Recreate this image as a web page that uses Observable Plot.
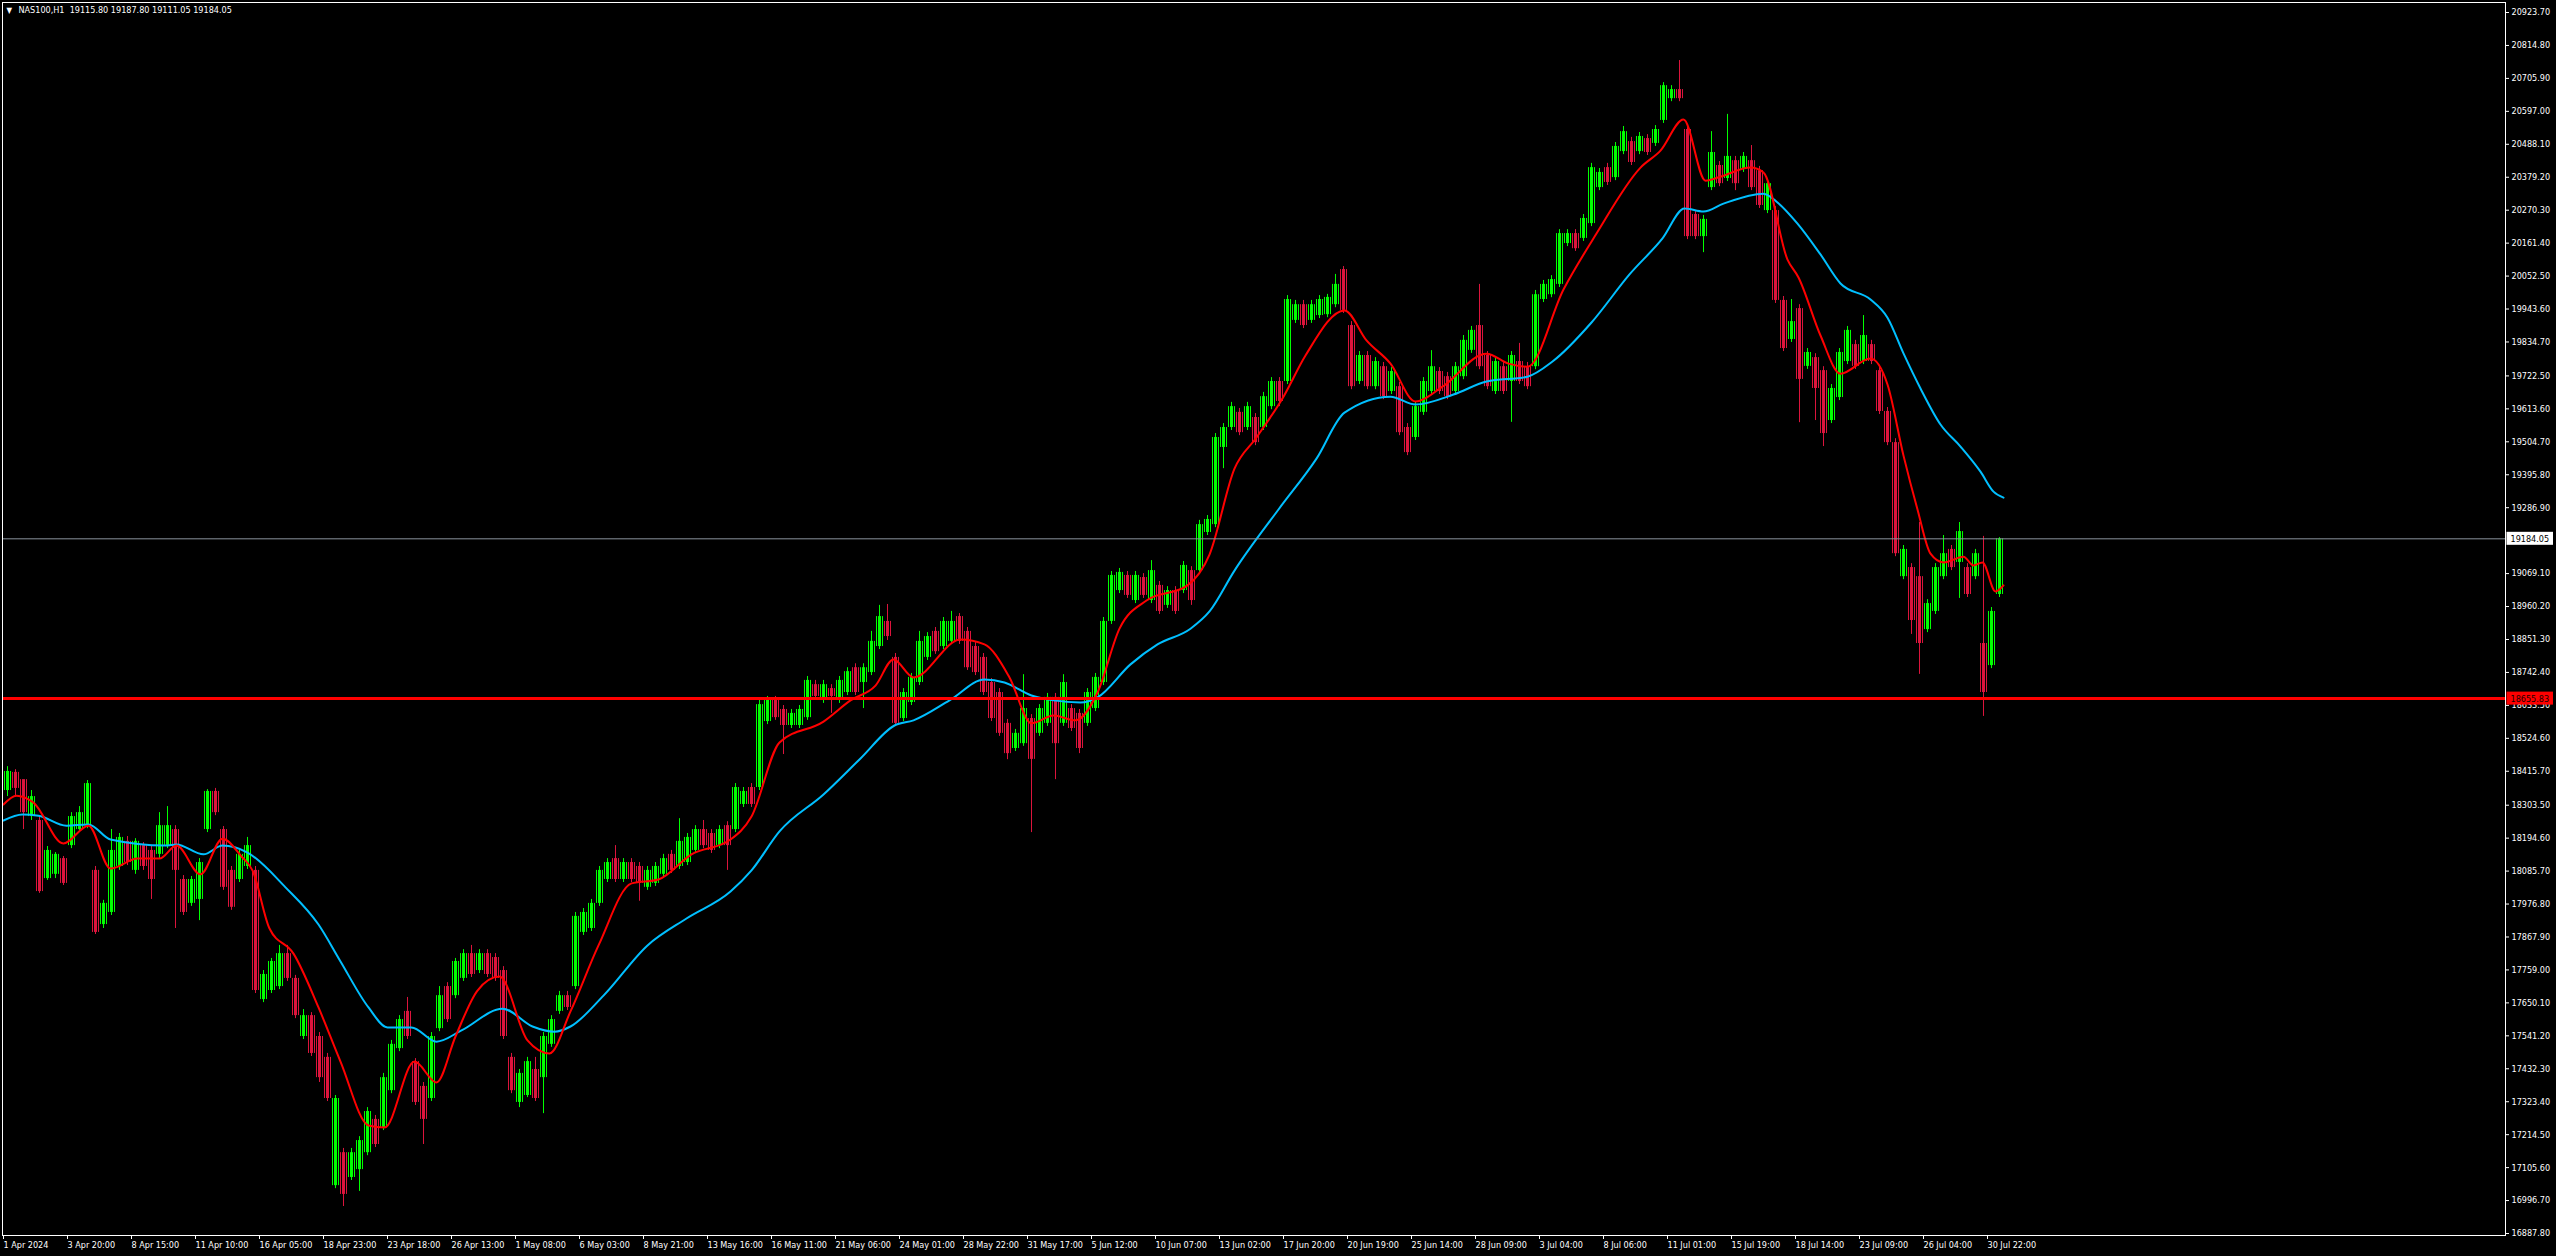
<!DOCTYPE html>
<html>
<head>
<meta charset="utf-8">
<script src="https://cdn.jsdelivr.net/npm/d3@7"></script>
<script src="https://cdn.jsdelivr.net/npm/@observablehq/plot@0.6"></script>
<style>
html, body { margin: 0; padding: 0; background: #000; overflow: hidden; }
#chart { position: absolute; left: 0; top: 0; }
</style>
</head>
<body>
<div id="chart"></div>
<script>
// ---------- header ----------
const symbolName = "NAS100,H1";
const lastOHLC = [19115.80, 19187.80, 19111.05, 19184.05];

// ---------- price columns (each column = 8 hourly bars) ----------
const barsPerColumn = 8;
const colOpen = [
18352,18412,18388,18266,18253,18061,18075,18127,18170,18223,
18236,18088,17909,17949,18101,18184,18088,18170,18154,18141,
18170,18223,18058,17979,17992,18223,18349,18223,18088,18058,
18101,18088,17661,17691,17704,17813,17731,17539,17608,17539,
17470,17046,17155,17073,17099,17155,17265,17238,17360,17499,
17622,17456,17374,17334,17565,17704,17674,17731,17813,17757,
17813,17800,17757,17470,17321,17344,17430,17403,17513,17622,
17674,17704,17883,17896,17979,18058,18127,18058,18114,18101,
18032,18045,18075,18141,18101,18114,18154,18223,18210,18170,
18236,18223,18306,18362,18362,18580,18650,18620,18567,18567,
18593,18702,18650,18689,18650,18676,18758,18709,18742,18828,
18911,18792,18590,18643,18709,18792,18878,18828,18845,18927,
18878,18828,18792,18709,18676,18574,18491,18507,18590,18541,
18574,18660,18574,18623,18607,18574,18623,18709,18911,19013,
19063,18980,19056,18980,19030,18964,19013,19013,19079,19079,
19205,19231,19486,19552,19602,19552,19585,19552,19621,19704,
19704,19906,19958,19906,19922,19925,19958,20074,19889,19704,
19790,19687,19753,19671,19687,19552,19519,19602,19671,19737,
19720,19671,19720,19807,19889,19790,19671,19753,19704,19770,
19753,19753,19975,19991,20025,20160,20193,20177,20226,20345,
20411,20378,20464,20497,20464,20507,20491,20567,20639,20669,
20537,20256,20183,20345,20418,20375,20434,20405,20434,20401,
20269,20269,19972,19843,19945,19754,19783,19740,19575,19651,
19770,19826,19770,19826,19740,19605,19502,19059,19089,19059,
18884,18944,19059,19149,19106,19089,19059,18838,18765,19000
];
const colHigh = [
18431,18421,18388,18352,18266,18167,18147,18134,18279,18299,
18385,18101,17989,18223,18210,18200,18193,18180,18167,18279,
18299,18236,18071,18068,18127,18355,18359,18233,18101,18154,
18197,18101,17757,17797,17840,17840,17741,17628,17618,17552,
17483,17344,17169,17169,17208,17304,17278,17417,17526,17608,
17668,17466,17387,17552,17704,17717,17797,17826,17840,17826,
17826,17813,17770,17483,17430,17470,17470,17552,17608,17688,
17688,17949,17962,17992,18101,18127,18170,18127,18127,18114,
18101,18114,18141,18154,18259,18210,18236,18253,18223,18236,
18249,18375,18362,18375,18650,18663,18663,18633,18620,18633,
18729,18716,18716,18702,18729,18758,18771,18771,18878,18964,
18967,18805,18689,18739,18878,18874,18891,18924,18944,18937,
18891,18841,18805,18722,18689,18587,18554,18735,18603,18636,
18673,18673,18735,18636,18620,18689,18739,18924,19076,19086,
19076,19076,19069,19112,19043,19026,19026,19109,19092,19245,
19261,19532,19565,19635,19615,19635,19598,19668,19717,19717,
19988,19972,19972,19972,19988,19992,20058,20084,19902,19803,
19803,19783,19767,19750,19701,19565,19635,19717,19806,19750,
19734,19767,19856,19886,20025,19803,19783,19767,19803,19830,
19767,20005,20038,20054,20206,20206,20206,20256,20425,20408,
20425,20494,20547,20511,20527,20520,20550,20692,20682,20765,
20550,20269,20253,20530,20431,20587,20448,20461,20484,20415,
20372,20282,19985,19975,19958,19813,19796,19753,19694,19813,
19886,19840,19922,19840,19753,19618,19515,19162,19102,19238,
18983,19102,19195,19162,19238,19102,19149,19192,18957,19188
];
const colLow = [
18332,18335,18223,18253,18012,18055,18061,18038,18160,18213,
18226,17876,17896,17939,18088,18104,18075,18088,17992,18127,
18160,17896,17939,17969,17922,18213,18269,18022,17956,18048,
18091,17681,17651,17681,17694,17721,17598,17529,17473,17387,
17324,17036,16977,17063,17027,17145,17172,17228,17350,17489,
17529,17311,17182,17324,17555,17585,17664,17721,17734,17747,
17734,17721,17529,17350,17304,17337,17324,17284,17503,17612,
17625,17694,17873,17886,17969,18048,18048,18048,18048,17986,
18022,18035,18065,18078,18091,18104,18144,18160,18144,18160,
18088,18213,18296,18296,18352,18570,18584,18471,18557,18557,
18584,18653,18640,18607,18640,18666,18666,18623,18732,18818,
18848,18564,18580,18633,18699,18782,18802,18818,18835,18835,
18749,18732,18666,18580,18531,18454,18481,18498,18213,18531,
18564,18388,18564,18547,18474,18564,18613,18699,18901,19003,
18987,18970,18987,18970,18934,18954,18934,19003,18964,19069,
19195,19221,19416,19542,19525,19542,19492,19542,19611,19621,
19694,19896,19879,19896,19912,19915,19948,19929,19677,19694,
19677,19677,19644,19661,19525,19459,19509,19592,19661,19661,
19644,19661,19710,19797,19743,19677,19661,19661,19569,19694,
19677,19743,19965,19981,20015,20150,20134,20167,20216,20335,
20352,20368,20454,20418,20454,20451,20481,20557,20629,20629,
20173,20173,20130,20335,20348,20365,20335,20395,20335,20276,
20259,19962,19803,19833,19568,19744,19575,19489,19565,19641,
19760,19744,19760,19760,19595,19492,19125,19049,18868,18736,
18874,18934,19049,19079,18987,18990,19049,18597,18755,18990
];
const colClose = [
18415,18359,18279,18332,18018,18154,18141,18045,18266,18279,
18375,17883,17979,18154,18197,18114,18184,18101,18058,18236,
18236,18088,17949,18058,18114,18349,18279,18032,17966,18141,
18170,17691,17744,17787,17813,17731,17608,17608,17483,17403,
17334,17334,17017,17155,17195,17291,17182,17403,17513,17595,
17539,17321,17265,17539,17674,17595,17787,17813,17744,17813,
17744,17731,17539,17360,17417,17456,17334,17539,17595,17674,
17635,17936,17949,17979,18088,18114,18058,18114,18058,18045,
18088,18101,18127,18088,18184,18197,18223,18170,18154,18223,
18170,18362,18349,18306,18636,18650,18593,18567,18607,18620,
18716,18663,18702,18663,18716,18745,18676,18758,18845,18927,
18861,18574,18676,18726,18845,18861,18811,18911,18911,18845,
18758,18742,18676,18590,18541,18474,18541,18623,18455,18623,
18660,18507,18709,18557,18491,18676,18726,18911,19063,19073,
18997,19063,18997,19079,18944,19013,18944,19096,18980,19231,
19248,19519,19552,19621,19535,19621,19502,19654,19704,19638,
19975,19958,19889,19958,19975,19982,20025,19939,19687,19790,
19687,19770,19654,19737,19535,19469,19621,19704,19753,19671,
19654,19753,19840,19873,19753,19687,19770,19671,19790,19704,
19687,19991,20025,20041,20193,20193,20143,20243,20411,20395,
20362,20481,20530,20428,20514,20461,20537,20682,20669,20639,
20183,20183,20240,20461,20358,20448,20358,20448,20345,20286,
20358,19972,19813,19902,19711,19800,19681,19532,19681,19800,
19873,19754,19856,19770,19605,19502,19135,19149,18914,18838,
18970,19089,19135,19089,19208,19000,19135,18676,18944,19184
];

// ---------- moving averages (bar index, value) ----------
const maFastBar = [0,13,30,60,85,107,134,156,173,197,219,238,249,266,290,315,337,365,381,411,433,452,474,496,524,546,567,595,628,655,688,727,748,776,820,847,872,890,910,957,981,1006,1028,1050,1072,1094,1116,1143,1184,1206,1231,1253,1280,1302,1341,1363,1387,1412,1439,1483,1505,1524,1560,1593,1637,1657,1680,1702,1717,1747,1760,1784,1795,1817,1837,1867,1884,1900,1914,1927,1940,1960,1970,1979,1992,2000];
const maFastValue = [18306,18335,18312,18177,18236,18094,18127,18127,18170,18075,18193,18134,18088,17896,17813,17635,17456,17245,17238,17456,17387,17539,17691,17737,17526,17483,17622,17840,18045,18058,18141,18190,18266,18511,18580,18650,18699,18785,18726,18851,18835,18726,18574,18600,18584,18676,18887,18980,19030,19132,19416,19519,19654,19790,19939,19840,19763,19638,19687,19796,19763,19753,20008,20193,20411,20467,20570,20368,20381,20411,20395,20107,20048,19856,19730,19780,19694,19459,19281,19135,19106,19125,19096,19106,19010,19030];
const maSlowBar = [0,19,35,63,85,107,162,173,200,219,244,282,315,337,365,384,408,433,458,499,529,551,567,600,644,683,727,748,776,820,857,891,910,946,981,1001,1028,1050,1077,1094,1127,1154,1187,1206,1231,1275,1313,1341,1387,1412,1450,1483,1524,1549,1588,1626,1659,1681,1700,1720,1760,1774,1794,1817,1837,1867,1884,1900,1917,1937,1957,1977,1990,2000];
const maSlowValue = [18253,18273,18269,18236,18240,18190,18170,18174,18141,18170,18147,18032,17909,17787,17635,17569,17569,17522,17559,17631,17572,17555,17572,17674,17840,17929,18018,18088,18217,18339,18458,18567,18584,18650,18719,18709,18666,18650,18643,18660,18769,18835,18887,18944,19079,19281,19449,19601,19654,19628,19661,19704,19720,19770,19899,20058,20177,20276,20266,20292,20325,20296,20226,20124,20028,19975,19915,19797,19681,19562,19489,19406,19340,19320];

// ---------- axes ----------
const yTickValues = [20923.70,20814.80,20705.90,20597.00,20488.10,20379.20,20270.30,20161.40,20052.50,19943.60,19834.70,19722.50,19613.60,19504.70,19395.80,19286.90,19069.10,18960.20,18851.30,18742.40,18633.50,18524.60,18415.70,18303.50,18194.60,18085.70,17976.80,17867.90,17759.00,17650.10,17541.20,17432.30,17323.40,17214.50,17105.60,16996.70,16887.80];
const xTickBars = [0,64,128,192,256,320,384,448,512,576,640,704,768,832,896,960,1024,1088,1152,1216,1280,1344,1408,1472,1536,1600,1664,1728,1792,1856,1920,1984];
const xTickLabels = ["1 Apr 2024","3 Apr 20:00","8 Apr 15:00","11 Apr 10:00","16 Apr 05:00","18 Apr 23:00","23 Apr 18:00","26 Apr 13:00","1 May 08:00","6 May 03:00","8 May 21:00","13 May 16:00","16 May 11:00","21 May 06:00","24 May 01:00","28 May 22:00","31 May 17:00","5 Jun 12:00","10 Jun 07:00","13 Jun 02:00","17 Jun 20:00","20 Jun 19:00","25 Jun 14:00","28 Jun 09:00","3 Jul 04:00","8 Jul 06:00","11 Jul 01:00","15 Jul 19:00","18 Jul 14:00","23 Jul 09:00","26 Jul 04:00","30 Jul 22:00"];

// ---------- horizontal levels ----------
const currentPrice = 19184.05;
const levelPrice = 18655.83;

// ---------- scales / styling ----------
const xDomain = [-1, 2502];
const yDomain = [16881.2, 20956.8];
const W = 2556, H = 1256, mL = 2, mR = 51, mT = 2, mB = 21;
const upColor = "#00ff00", downColor = "#dc143c";
const pricePerPx = (yDomain[1] - yDomain[0]) / (H - mT - mB);
const boxHalf = 6.5 * pricePerPx;

const columns = colOpen.map((open, i) => {
  const up = colClose[i] >= open;
  return {
    start: i * barsPerColumn,
    end: (i + 1) * barsPerColumn,
    mid: i * barsPerColumn + barsPerColumn / 2,
    open, high: colHigh[i], low: colLow[i], close: colClose[i],
    color: up ? upColor : downColor,
    texture: up ? "url(#upBars)" : "url(#downBars)"
  };
});
const maFast = maFastBar.map((b, i) => ({bar: b, value: maFastValue[i]}));
const maSlow = maSlowBar.map((b, i) => ({bar: b, value: maSlowValue[i]}));
const labelByBar = new Map(xTickBars.map((b, i) => [b, xTickLabels[i]]));

const priceLabels = [
  {price: currentPrice, box: "#ffffff", ink: "#000000"},
  {price: levelPrice, box: "#ff0000", ink: "#1a0000"}
];
const boxX1 = xDomain[1] + 1.5, boxX2 = xDomain[1] + 48, boxTextX = xDomain[1] + 5;

const chart = Plot.plot({
  width: W, height: H,
  marginLeft: mL, marginRight: mR, marginTop: mT, marginBottom: mB,
  x: {domain: xDomain},
  y: {domain: yDomain},
  color: {type: "identity"},
  style: {
    background: "#000",
    color: "#ffffff",
    fontFamily: "'DejaVu Sans Condensed', 'DejaVu Sans', sans-serif",
    fontStretch: "condensed",
    fontSize: "9px",
    overflow: "visible"
  },
  marks: [
    Plot.ruleX(columns, {x: "mid", y1: "low", y2: "high", stroke: "color", strokeWidth: 1}),
    Plot.rect(columns, {x1: "start", x2: "end", y1: "open", y2: "close", fill: "texture"}),
    Plot.line(maSlow, {x: "bar", y: "value", stroke: "#00bfff", strokeWidth: 2, curve: "monotone-x"}),
    Plot.line(maFast, {x: "bar", y: "value", stroke: "#ff0000", strokeWidth: 2, curve: "monotone-x"}),
    Plot.ruleY([currentPrice], {stroke: "#8a929c", strokeWidth: 1}),
    Plot.ruleY([levelPrice], {stroke: "#ff0000", strokeWidth: 3}),
    Plot.frame({stroke: "#ffffff"}),
    Plot.axisY({ticks: yTickValues, anchor: "right", tickSize: 3, tickPadding: 3,
      tickFormat: d => d.toFixed(2), label: null}),
    Plot.axisX({ticks: xTickBars, anchor: "bottom", tickSize: 4, tickPadding: 2,
      tickFormat: d => labelByBar.get(d), textAnchor: "start", label: null}),
    Plot.rect(priceLabels, {x1: () => boxX1, x2: () => boxX2,
      y1: d => d.price - boxHalf, y2: d => d.price + boxHalf, fill: "box"}),
    Plot.text(priceLabels, {x: () => boxTextX, y: "price", text: d => d.price.toFixed(2),
      fill: "ink", textAnchor: "start"}),
    Plot.text(["▼"], {frameAnchor: "top-left", dx: 4, dy: 5, lineAnchor: "top",
      textAnchor: "start", fill: "#ffffff", fontSize: 8}),
    Plot.text([`${symbolName}  ${lastOHLC.map(v => v.toFixed(2)).join(" ")}`], {
      frameAnchor: "top-left", dx: 16, dy: 4, lineAnchor: "top", textAnchor: "start", fill: "#ffffff"})
  ]
});

// vertical-stripe textures so each 8-bar column reads like densely packed hourly bars
const defs = d3.select(chart).insert("defs", ":first-child");
[["upBars", upColor], ["downBars", downColor]].forEach(([id, c]) => {
  const p = defs.append("pattern").attr("id", id).attr("patternUnits", "userSpaceOnUse")
    .attr("width", 2).attr("height", 8);
  p.append("rect").attr("x", 0).attr("y", 0).attr("width", 1).attr("height", 8).attr("fill", c);
});
document.getElementById("chart").appendChild(chart);
</script>
</body>
</html>
